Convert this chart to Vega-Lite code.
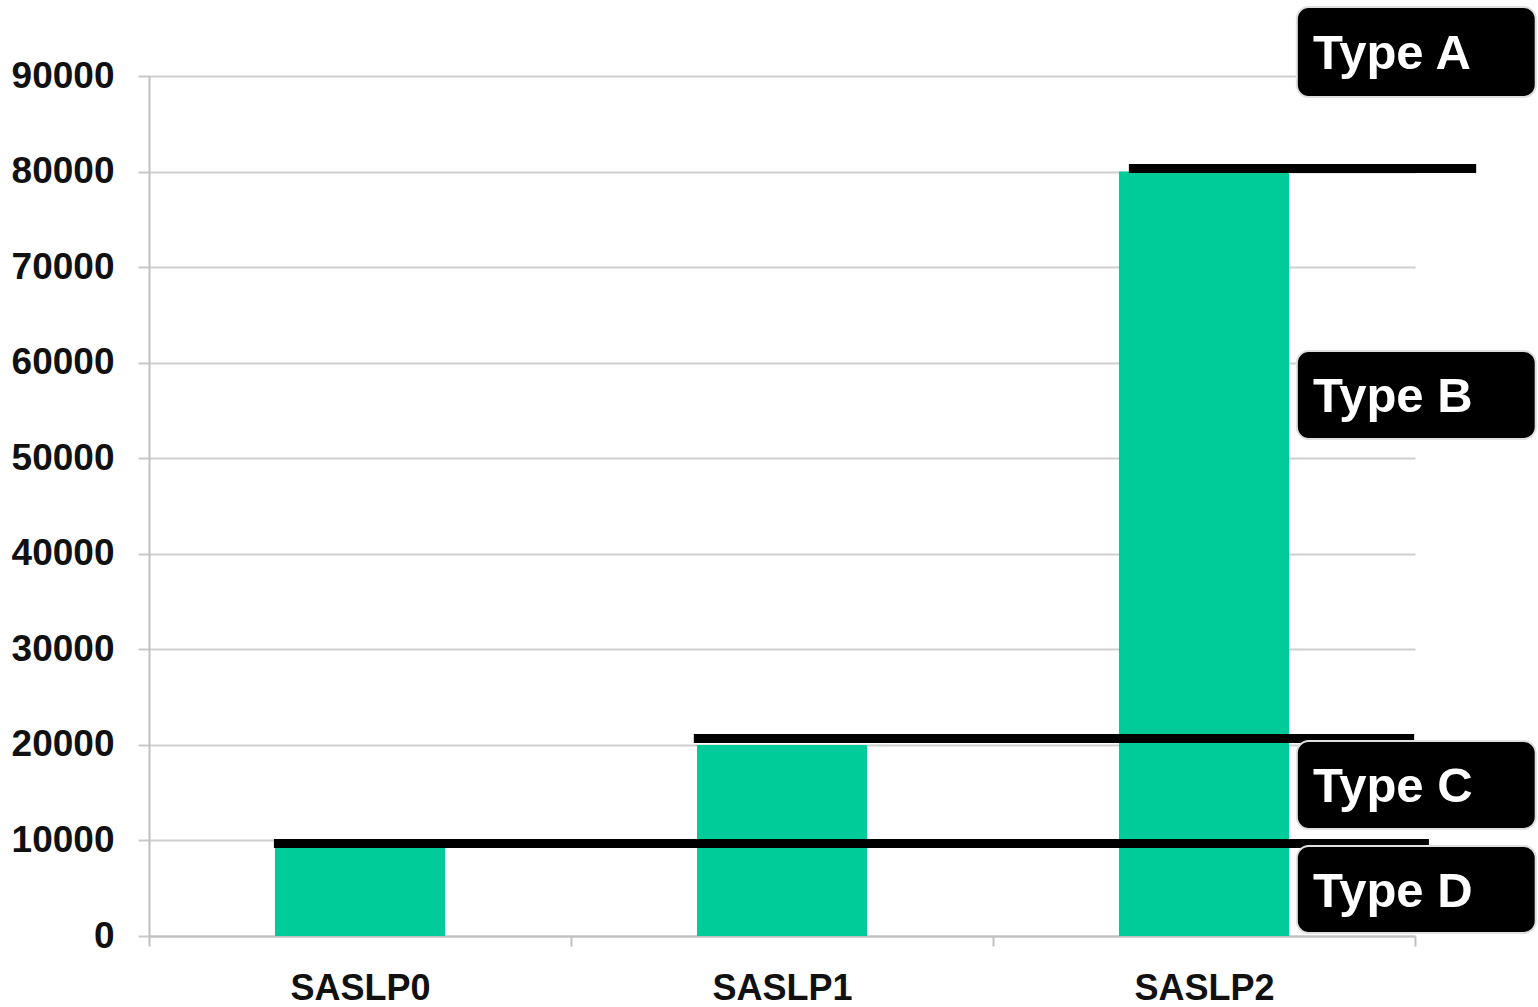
{
  "$schema": "https://vega.github.io/schema/vega-lite/v6.json",
  "width": 1266,
  "height": 860,
  "autosize": {"type": "none"},
  "padding": {"left": 149, "top": 76, "right": 123, "bottom": 71},
  "background": "white",
  "config": {
    "view": {"stroke": null},
    "font": "Liberation Sans"
  },
  "datasets": {
    "bars": [
      {"category": "SASLP0", "value": 10000},
      {"category": "SASLP1", "value": 20000},
      {"category": "SASLP2", "value": 80000}
    ],
    "lines": [
      {"boundary": "D/C", "start": 0.296, "end": 3.033, "level": 9680},
      {"boundary": "C/B", "start": 1.291, "end": 2.998, "level": 20670},
      {"boundary": "B/A", "start": 2.322, "end": 3.145, "level": 80320}
    ],
    "labels": [
      {"label": "Type A", "top": 97220, "bottom": 87800, "mid": 92300},
      {"label": "Type B", "top": 61220, "bottom": 52010, "mid": 56400},
      {"label": "Type C", "top": 20410, "bottom": 11200, "mid": 15600},
      {"label": "Type D", "top": 9420, "bottom": 314, "mid": 4600}
    ]
  },
  "layer": [
    {
      "data": {"name": "bars"},
      "mark": {"type": "bar", "color": "#00CC99", "width": {"band": 0.403}},
      "encoding": {
        "x": {
          "field": "category", "type": "nominal",
          "scale": {"paddingInner": 0, "paddingOuter": 0},
          "axis": {
            "title": null, "labelAngle": 0, "labelFont": "Liberation Sans", "labelFontWeight": "bold",
            "labelFontSize": 36, "labelColor": "#111111", "labelPadding": 25,
            "tickBand": "extent", "tickSize": 10, "tickWidth": 2, "tickColor": "#c0c0c0",
            "domainColor": "#c0c0c0", "domainWidth": 2, "grid": false
          }
        },
        "y": {
          "field": "value", "type": "quantitative",
          "scale": {"domain": [0, 90000], "nice": false},
          "axis": {
            "title": null, "values": [0, 10000, 20000, 30000, 40000, 50000, 60000, 70000, 80000, 90000],
            "format": "d", "labelFont": "Liberation Sans", "labelFontWeight": "bold", "labelFontSize": 37,
            "labelColor": "#111111", "labelPadding": 24, "tickSize": 11, "tickWidth": 2, "tickColor": "#c8c8c8",
            "domainColor": "#c0c0c0", "domainWidth": 2, "gridColor": "#cfcfcf", "gridWidth": 2
          }
        }
      }
    },
    {
      "data": {"name": "lines"},
      "mark": {"type": "rule", "color": "black", "strokeWidth": 9},
      "encoding": {
        "x": {"field": "start", "type": "quantitative", "scale": {"domain": [0, 3], "nice": false, "zero": false}, "axis": null},
        "x2": {"field": "end"},
        "y": {"field": "level", "type": "quantitative"}
      }
    },
    {
      "data": {"name": "labels"},
      "mark": {"type": "rect", "color": "black", "cornerRadius": 12, "stroke": "#e0e0e0", "strokeWidth": 2},
      "encoding": {
        "x": {"datum": 2.72, "type": "quantitative", "scale": {"domain": [0, 3], "nice": false, "zero": false}, "axis": null},
        "x2": {"datum": 3.286},
        "y": {"field": "top", "type": "quantitative"},
        "y2": {"field": "bottom"}
      }
    },
    {
      "data": {"name": "labels"},
      "mark": {"type": "text", "color": "white", "font": "Liberation Sans", "fontWeight": "bold", "fontSize": 49, "align": "left", "baseline": "middle"},
      "encoding": {
        "x": {"datum": 2.758, "type": "quantitative", "scale": {"domain": [0, 3], "nice": false, "zero": false}, "axis": null},
        "y": {"field": "mid", "type": "quantitative"},
        "text": {"field": "label"}
      }
    }
  ],
  "resolve": {"scale": {"x": "independent"}}
}
